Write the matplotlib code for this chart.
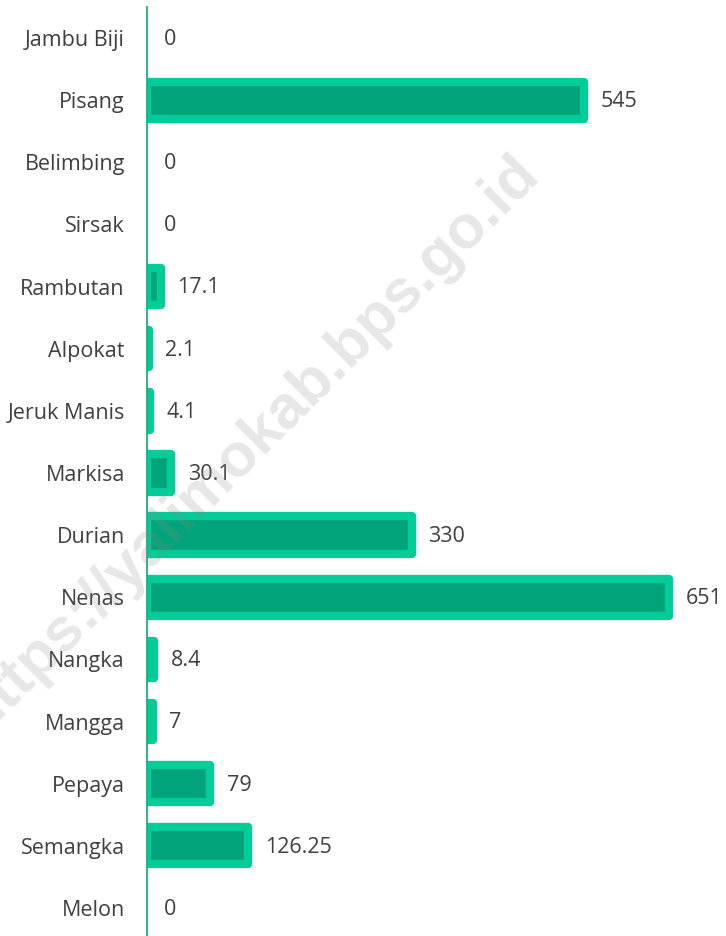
import matplotlib
matplotlib.use("Agg")
import matplotlib.pyplot as plt

# data (top to bottom as shown)
categories = ["Jambu Biji", "Pisang", "Belimbing", "Sirsak", "Rambutan", "Alpokat",
              "Jeruk Manis", "Markisa", "Durian", "Nenas", "Nangka", "Mangga",
              "Pepaya", "Semangka", "Melon"]
values = [0, 545, 0, 0, 17.1, 2.1, 4.1, 30.1, 330, 651, 8.4, 7, 79, 126.25, 0]

inner_col = "#01A47A"
outer_col = "#02CC97"
text_col = "#404040"

plt.rcParams["font.family"] = ["Open Sans", "DejaVu Sans"]

W, H = 726, 936
fig = plt.figure(figsize=(W / 100, H / 100), dpi=100)
ax = fig.add_axes([147 / W, -3 / H, 579 / W, 932 / H])

ypos = list(range(len(categories)))
lws = [0 if v == 0 else 6.0 for v in values]
bars = ax.barh(ypos, values, height=0.6, color=inner_col, edgecolor=outer_col,
               linewidth=lws, zorder=2)
for b in bars:
    b.set_joinstyle("round")

for y, v in zip(ypos, values):
    ax.annotate(f"{v:g}", xy=(v, y), xytext=(12, -1), textcoords="offset points",
                va="center", ha="left", fontsize=15.5, color=text_col,
                annotation_clip=False)

ax.set_xlim(0, 579 / 0.8025)
ax.set_ylim(len(categories) - 0.5, -0.5)
ax.set_yticks(ypos)
ax.set_yticklabels(categories, fontsize=15.5, color=text_col)
ax.tick_params(axis="y", length=0, pad=16)
ax.set_xticks([])
for s in ["top", "right", "bottom"]:
    ax.spines[s].set_visible(False)
ax.spines["left"].set_color("#18B07E")
ax.spines["left"].set_linewidth(1.3)
ax.spines["left"].set_zorder(3)

# watermark
fig.text(250 / W, 1 - 444 / H, "https://yalimokab.bps.go.id", fontsize=44,
         fontweight="bold", family="Liberation Sans", color="#888888", alpha=0.2,
         rotation=45, ha="center", va="center", zorder=10)

fig.savefig("out.png", dpi=100)
